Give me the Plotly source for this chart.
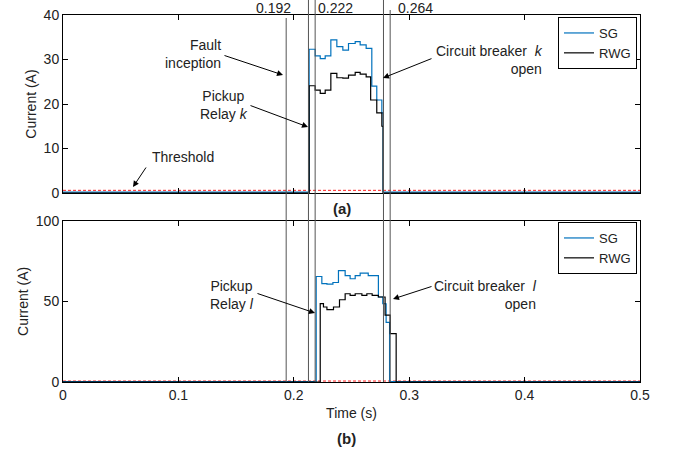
import plotly.graph_objects as go

# ---------------- data ----------------
# panel (a): relay k currents (A) vs time (s), step-wise
t_a_sg = [0.0, 0.2133, 0.2185, 0.2229, 0.2272, 0.2321, 0.2373, 0.2425, 0.2474, 0.2532, 0.2575, 0.2627, 0.2676, 0.2719, 0.2763, 0.2774, 0.5]
i_a_sg = [0.2, 32.3, 30.8, 30.2, 30.8, 34.4, 32.9, 32.1, 33.6, 34.0, 33.3, 32.5, 24.0, 20.9, 18.0, 0.2, 0.2]
t_a_rwg = [0.0, 0.2133, 0.2185, 0.2229, 0.2272, 0.2321, 0.2373, 0.2425, 0.2474, 0.2532, 0.2575, 0.2627, 0.2666, 0.2719, 0.2763, 0.2774, 0.5]
i_a_rwg = [0.0, 24.1, 23.1, 22.4, 23.1, 26.9, 25.9, 25.8, 26.5, 27.1, 26.7, 26.1, 20.9, 18.0, 15.0, 0.0, 0.0]

# panel (b): relay l currents (A)
t_b_sg = [0.0, 0.2194, 0.2243, 0.2287, 0.2339, 0.2387, 0.2445, 0.2488, 0.2532, 0.2575, 0.2645, 0.2733, 0.2771, 0.2800, 0.2830, 0.5]
i_b_sg = [0.2, 65.4, 61.0, 60.7, 61.7, 69.0, 66.0, 64.0, 66.0, 67.5, 66.0, 52.7, 48.5, 37.0, 0.2, 0.2]
t_b_rwg = [0.0, 0.2229, 0.2257, 0.2287, 0.2344, 0.2396, 0.2445, 0.2488, 0.2532, 0.2590, 0.2633, 0.2679, 0.2733, 0.2791, 0.2835, 0.2887, 0.5]
i_b_rwg = [0.0, 48.6, 46.5, 44.9, 46.5, 51.0, 54.7, 53.7, 54.7, 53.7, 54.7, 53.7, 52.7, 41.4, 30.0, 0.0, 0.0]

threshold = 0.6
t_range = [0.0, 0.5]

# event marker times and their labels
marker_times = [0.1934, 0.2127, 0.2185, 0.2777, 0.2835]
label_texts = ["0.192", "0.222", "0.264"]

x_ticks = [0, 0.1, 0.2, 0.3, 0.4, 0.5]
x_tick_text = ["0", "0.1", "0.2", "0.3", "0.4", "0.5"]
ya_ticks = [0, 10, 20, 30, 40]
yb_ticks = [0, 50, 100]

# ---------------- styling ----------------
FONT = "Arial, Liberation Sans, sans-serif"
BLUE = "#0072BD"
FS = 14

W, H = 684, 455
ML, MR, MT, MB = 63, 44, 15, 73
PW, PH = W - ML - MR, H - MT - MB


def py2paper(py):
    return (H - MB - py) / PH


def px2paper(px):
    return (px - ML) / PW


fig = go.Figure()

# threshold lines (drawn first so baselines cover them)
for xa, ya in (("x", "y"), ("x2", "y2")):
    fig.add_trace(go.Scatter(x=t_range, y=[threshold, threshold], mode="lines",
                             line=dict(color="#FF2020", width=1, dash="3px,2px"),
                             xaxis=xa, yaxis=ya, showlegend=False, hoverinfo="skip"))

fig.add_trace(go.Scatter(x=t_a_sg, y=i_a_sg, mode="lines", name="SG", line_shape="hv",
                         line=dict(color=BLUE, width=1.2), xaxis="x", yaxis="y", legend="legend"))
fig.add_trace(go.Scatter(x=t_a_rwg, y=i_a_rwg, mode="lines", name="RWG", line_shape="hv",
                         line=dict(color="black", width=1.2), xaxis="x", yaxis="y", legend="legend"))
fig.add_trace(go.Scatter(x=t_b_sg, y=i_b_sg, mode="lines", name="SG", line_shape="hv",
                         line=dict(color=BLUE, width=1.2), xaxis="x2", yaxis="y2", legend="legend2"))
fig.add_trace(go.Scatter(x=t_b_rwg, y=i_b_rwg, mode="lines", name="RWG", line_shape="hv",
                         line=dict(color="black", width=1.2), xaxis="x2", yaxis="y2", legend="legend2"))

# vertical event lines spanning both panels
tops = [py2paper(18), py2paper(0), py2paper(0), py2paper(0), py2paper(10)]
for t, top in zip(marker_times, tops):
    fig.add_shape(type="line", xref="x", yref="paper", x0=t, x1=t, y0=0, y1=top,
                  line=dict(color="#555555", width=1))

axis_common = dict(showline=True, linecolor="black", linewidth=1, mirror="ticks",
                   ticks="inside", ticklen=5, tickcolor="black", showgrid=False,
                   zeroline=False, automargin=False,
                   tickfont=dict(family=FONT, size=FS, color="#222"))

top_dom = [py2paper(193), 1.0]
bot_dom = [0.0, py2paper(220.7)]

leg_common = dict(xanchor="right", yanchor="top", bordercolor="black", borderwidth=1,
                  bgcolor="white", font=dict(family=FONT, size=13, color="#222"),
                  itemwidth=30, tracegroupgap=0)

fig.update_layout(
    width=W, height=H,
    margin=dict(l=ML, r=MR, t=MT, b=MB, autoexpand=False),
    paper_bgcolor="white", plot_bgcolor="white",
    font=dict(family=FONT, size=FS, color="#222"),
    xaxis=dict(domain=[0, 1], range=t_range, anchor="y", tickvals=x_ticks,
               showticklabels=False, **axis_common),
    yaxis=dict(domain=top_dom, range=[0, 40], anchor="x", tickvals=ya_ticks,
               title=dict(text="Current (A)", font=dict(family=FONT, size=FS, color="#222"), standoff=3),
               **axis_common),
    xaxis2=dict(domain=[0, 1], range=t_range, anchor="y2", matches="x", tickvals=x_ticks,
                ticktext=x_tick_text,
                title=dict(text="Time (s)", font=dict(family=FONT, size=FS, color="#222"), standoff=6),
                **axis_common),
    yaxis2=dict(domain=bot_dom, range=[0, 100], anchor="x2", tickvals=yb_ticks,
                title=dict(text="Current (A)", font=dict(family=FONT, size=FS, color="#222"), standoff=3),
                **axis_common),
    legend=dict(x=px2paper(637), y=py2paper(17), **leg_common),
    legend2=dict(x=px2paper(637), y=py2paper(222), **leg_common),
    showlegend=True,
)


def txt(text, px, py, xanchor="center", align="center", bold=False, size=FS):
    fig.add_annotation(text=f"<b>{text}</b>" if bold else text, xref="paper", yref="paper",
                       x=px2paper(px), y=py2paper(py), xanchor=xanchor, yanchor="middle",
                       align=align, showarrow=False,
                       font=dict(family=FONT, size=size, color="#222"))


def arrow(tx, ty, hx, hy):
    fig.add_annotation(text="", xref="paper", yref="paper", axref="pixel", ayref="pixel",
                       x=px2paper(hx), y=py2paper(hy), ax=tx - hx, ay=ty - hy,
                       showarrow=True, arrowhead=2, arrowsize=1.2, arrowwidth=1,
                       arrowcolor="black")


# time labels above top panel
txt(label_texts[0], 273, 8)
txt(label_texts[1], 335, 8)
txt(label_texts[2], 415, 8)

# panel (a) annotations
txt("Fault<br>inception", 223, 54, xanchor="right", align="right")
arrow(223, 55, 283, 75)
txt("Pickup<br>Relay <i>k</i>", 224, 105)
arrow(249, 105, 308, 127)
txt("Circuit breaker  <i>k</i><br>open", 434, 60, xanchor="left", align="right")
arrow(433, 58, 383, 78)
txt("Threshold", 150, 157, xanchor="left")
arrow(147, 166, 133, 187)
txt("(a)", 342, 208, bold=True, size=15)

# panel (b) annotations
txt("Pickup<br>Relay <i>l</i>", 232, 295)
arrow(256, 293, 315, 313)
txt("Circuit breaker  <i>l</i><br>open", 432, 295, xanchor="left", align="right")
arrow(433, 286, 393, 299)
txt("(b)", 346, 438, bold=True, size=15)

fig.write_html("out.html", config={"displayModeBar": False},
               post_script="document.body.style.margin='0px';")
